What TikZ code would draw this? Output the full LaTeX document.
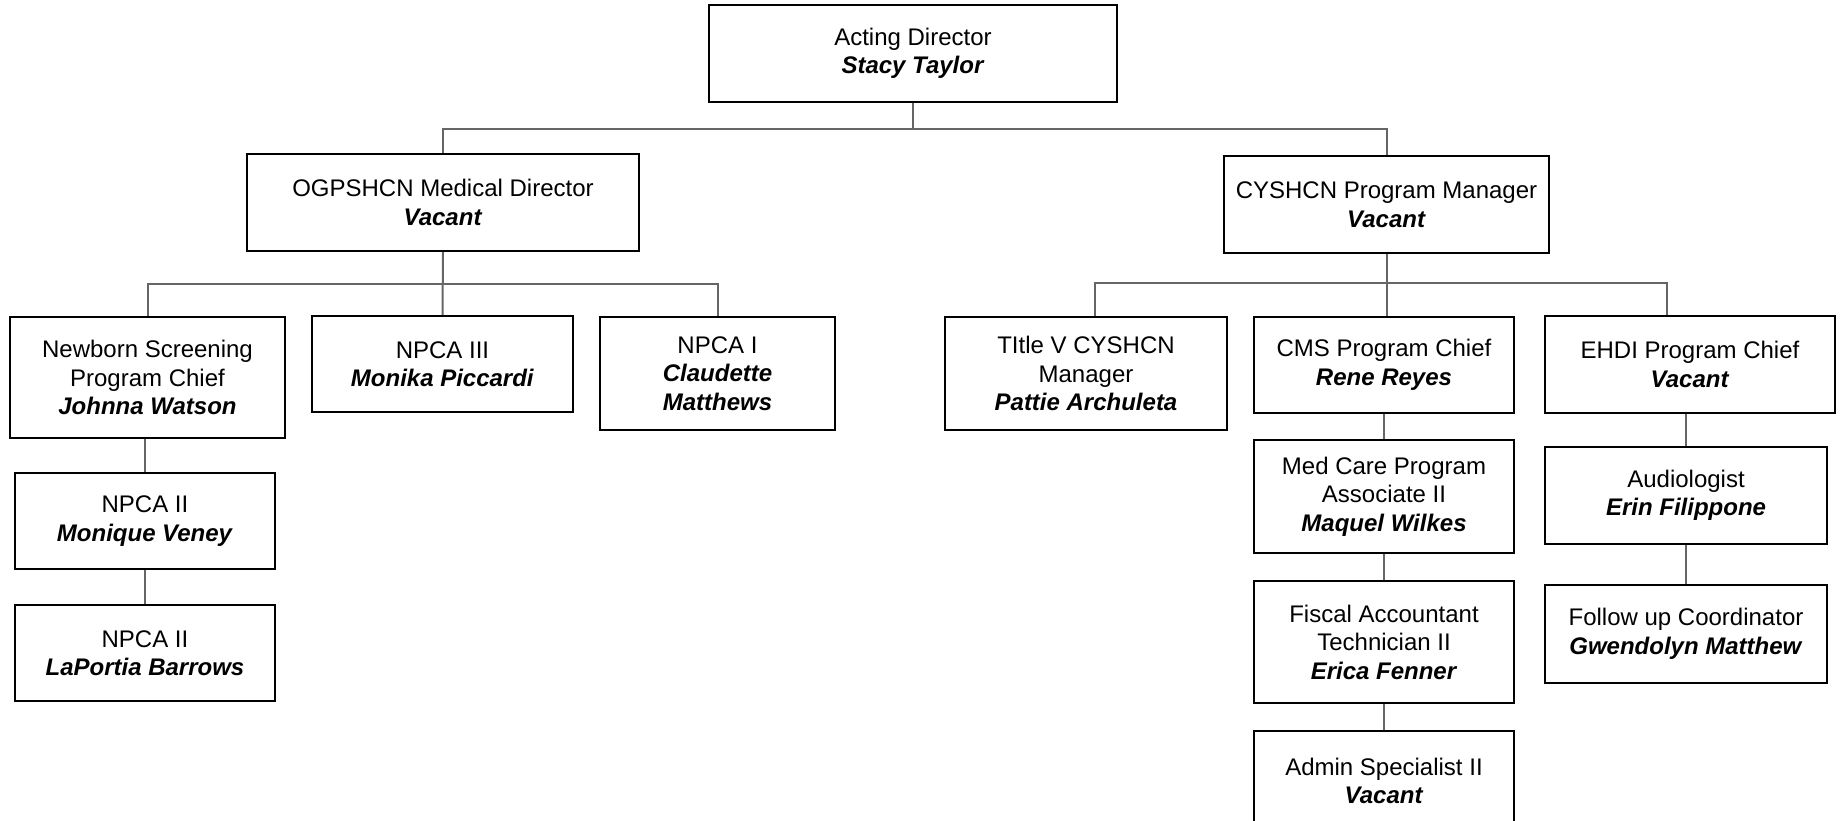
\documentclass[tikz,border=0pt]{standalone}
\usepackage{fontspec}
\setmainfont{Liberation Sans}
\usepackage{tikz}

\newcommand{\who}[1]{\textbf{\textit{#1}}}

\begin{document}
\begin{tikzpicture}[x=1pt, y=-1pt,
    post/.style={draw=black, line width=2pt, fill=white, align=center, inner sep=0pt,
      font=\fontsize{24}{28.5}\selectfont},
    link/.style={draw=black!60, line width=2pt}]
    \useasboundingbox (0,0) rectangle (1847,821);

    % Top of the chart
    \node[post, minimum width=408, minimum height=97] (dir) at (913,53.5)
      {Acting Director\\ \who{Stacy Taylor}};

    % Second level
    \node[post, minimum width=392, minimum height=97] (med) at (443,202.5)
      {OGPSHCN Medical Director\\ \who{Vacant}};
    \node[post, minimum width=325, minimum height=97] (mgr) at (1386.5,204.5)
      {CYSHCN Program Manager\\ \who{Vacant}};

    % Under the medical director
    \node[post, minimum width=275, minimum height=121] (nbs) at (147.5,377.5)
      {Newborn Screening\\ Program Chief\\ \who{Johnna Watson}};
    \node[post, minimum width=261, minimum height=96] (npcaiii) at (442.5,364)
      {NPCA III\\ \who{Monika Piccardi}};
    \node[post, minimum width=235, minimum height=113] (npcai) at (717.5,373.5)
      {NPCA I\\ \who{Claudette}\\ \who{Matthews}};
    \node[post, minimum width=260, minimum height=96] (npcaiia) at (145,521)
      {NPCA II\\ \who{Monique Veney}};
    \node[post, minimum width=260, minimum height=96] (npcaiib) at (145,653)
      {NPCA II\\ \who{LaPortia Barrows}};

    % Under the program manager
    \node[post, minimum width=282, minimum height=113] (titlev) at (1086,373.5)
      {TItle V CYSHCN\\ Manager\\ \who{Pattie Archuleta}};
    \node[post, minimum width=260, minimum height=96] (cms) at (1384,365)
      {CMS Program Chief\\ \who{Rene Reyes}};
    \node[post, minimum width=290, minimum height=97] (ehdi) at (1690,364.5)
      {EHDI Program Chief\\ \who{Vacant}};
    \node[post, minimum width=260, minimum height=113] (medcare) at (1384,496.5)
      {Med Care Program\\ Associate II\\ \who{Maquel Wilkes}};
    \node[post, minimum width=260, minimum height=122] (fiscal) at (1384,642)
      {Fiscal Accountant\\ Technician II\\ \who{Erica Fenner}};
    \node[post, minimum width=260, minimum height=100] (admin) at (1384,781)
      {Admin Specialist II\\ \who{Vacant}};
    \node[post, minimum width=282, minimum height=97] (audio) at (1686,495.5)
      {Audiologist\\ \who{Erin Filippone}};
    \node[post, minimum width=282, minimum height=98] (follow) at (1686,634)
      {Follow up Coordinator\\ \who{Gwendolyn Matthew}};

    % Bus lines
    \coordinate (bustop) at (913,129);
    \coordinate (busleft) at (443,284);
    \coordinate (busright) at (1386.5,283);

    \draw[link] (dir.south) -- (bustop);
    \draw[link] (med.north) |- (bustop) -| (mgr.north);

    \draw[link] (med.south) -- (npcaiii.north);
    \draw[link] (nbs.north) |- (busleft) -| (npcai.north);
    \draw[link] (npcaiia.north) -- (npcaiia.north |- nbs.south);
    \draw[link] (npcaiia.south) -- (npcaiib.north);

    \draw[link] (mgr.south) -- (mgr.south |- cms.north);
    \draw[link] ([xshift=9]titlev.north) |- (busright) -| ([xshift=-23]ehdi.north);
    \draw[link] (cms.south) -- (medcare.north);
    \draw[link] (medcare.south) -- (fiscal.north);
    \draw[link] (fiscal.south) -- (admin.north);
    \draw[link] (audio.north) -- (audio.north |- ehdi.south);
    \draw[link] (audio.south) -- (follow.north);
\end{tikzpicture}
\end{document}
